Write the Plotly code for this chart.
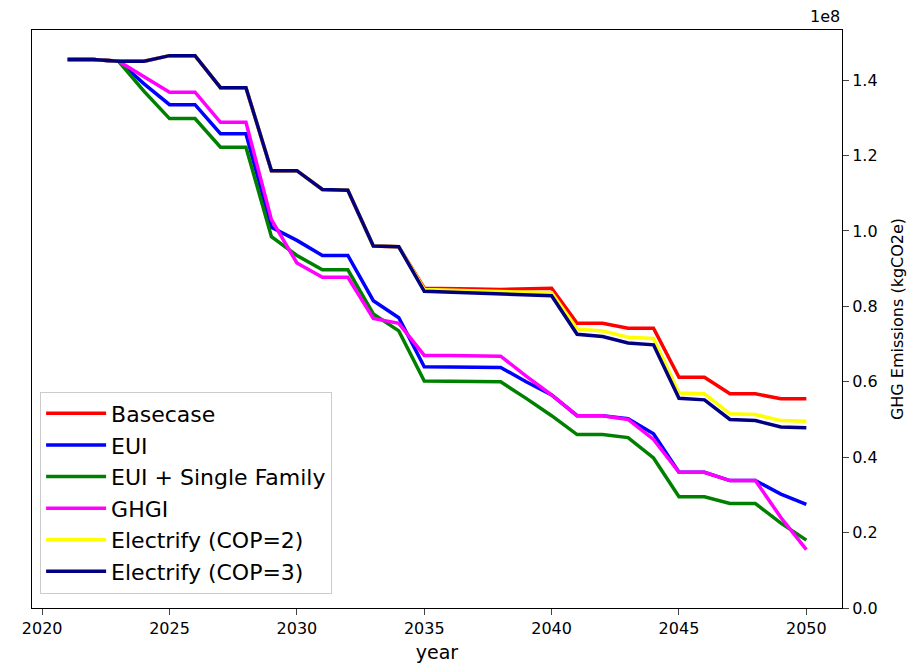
import plotly.graph_objects as go

years = list(range(2021, 2051))
basecase = [1.455,1.455,1.45,1.45,1.465,1.465,1.38,1.38,1.16,1.16,1.11,1.108,0.96,0.958,0.848,0.848,0.846,0.845,0.846,0.848,0.755,0.755,0.742,0.742,0.612,0.612,0.568,0.568,0.555,0.555]
eui = [1.455,1.455,1.45,1.39,1.335,1.335,1.258,1.258,1.01,0.975,0.935,0.935,0.815,0.77,0.64,0.64,0.638,0.638,0.6,0.565,0.51,0.51,0.502,0.462,0.36,0.36,0.338,0.338,0.302,0.275]
eui_sf = [1.455,1.455,1.45,1.37,1.298,1.298,1.222,1.222,0.985,0.935,0.897,0.897,0.78,0.735,0.602,0.602,0.6,0.6,0.556,0.51,0.46,0.46,0.452,0.398,0.295,0.295,0.277,0.277,0.225,0.18]
ghgi = [1.455,1.455,1.45,1.41,1.368,1.368,1.288,1.288,1.03,0.915,0.877,0.877,0.768,0.755,0.67,0.67,0.668,0.668,0.615,0.565,0.51,0.51,0.5,0.447,0.36,0.36,0.338,0.338,0.24,0.155]
elec2 = [1.455,1.455,1.45,1.45,1.465,1.465,1.38,1.38,1.16,1.16,1.11,1.108,0.96,0.958,0.845,0.843,0.84,0.838,0.838,0.836,0.74,0.735,0.718,0.715,0.57,0.568,0.515,0.513,0.497,0.495]
elec3 = [1.455,1.455,1.45,1.45,1.465,1.465,1.38,1.38,1.16,1.16,1.11,1.108,0.96,0.958,0.84,0.838,0.834,0.832,0.832,0.828,0.726,0.72,0.703,0.698,0.556,0.552,0.5,0.497,0.48,0.478]

series = [("Basecase", basecase, "red"), ("EUI", eui, "blue"), ("EUI + Single Family", eui_sf, "green"),
          ("GHGI", ghgi, "magenta"), ("Electrify (COP=2)", elec2, "yellow"), ("Electrify (COP=3)", elec3, "navy")]

fig = go.Figure()
for name, vals, col in series:
    fig.add_trace(go.Scatter(x=years, y=vals, name=name, mode="lines", line=dict(color=col, width=3.5)))

fig.update_layout(
    width=919, height=672, plot_bgcolor="white", paper_bgcolor="white",
    margin=dict(l=24, r=85, t=22, b=72),
    font=dict(family="DejaVu Sans", size=16, color="black"),
    legend=dict(x=0.01, y=0.025, xanchor="left", yanchor="bottom", bordercolor="#ccc", borderwidth=1,
                bgcolor="rgba(255,255,255,0.9)", font=dict(size=22), tracegroupgap=0, itemwidth=60),
    xaxis=dict(range=[2019.6, 2051.4], tickvals=[2020,2025,2030,2035,2040,2045,2050], showgrid=False,
               showline=True, linecolor="black", mirror=True, ticks="outside", ticklen=6, zeroline=False,
               title=dict(text="year", standoff=8)),
    yaxis=dict(range=[0, 1.533], side="right", tickvals=[0,0.2,0.4,0.6,0.8,1.0,1.2,1.4],
               ticktext=["0.0","0.2","0.4","0.6","0.8","1.0","1.2","1.4"], showgrid=False,
               showline=True, linecolor="black", mirror=True, ticks="outside", ticklen=6, zeroline=False,
               title=dict(text="GHG Emissions (kgCO2e)", font=dict(size=16))),
)
fig.add_annotation(text="1e8", xref="paper", yref="paper", x=1.0, y=1.0, xanchor="right", yanchor="bottom",
                   showarrow=False, font=dict(size=16), yshift=2)
fig.write_html("out.html")
